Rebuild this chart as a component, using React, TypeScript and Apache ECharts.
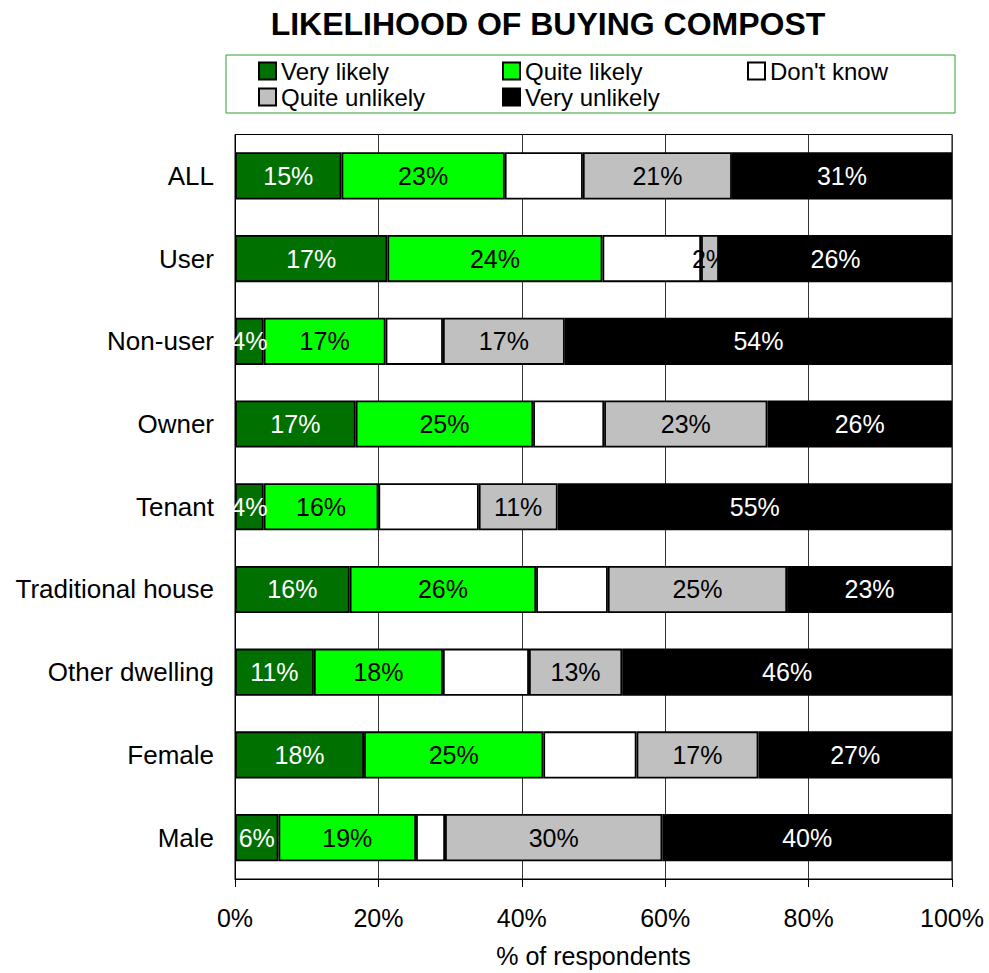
import React, { useEffect, useRef } from "react";
import * as echarts from "echarts";

const categories = ["ALL", "User", "Non-user", "Owner", "Tenant", "Traditional house", "Other dwelling", "Female", "Male"];
const veryLikely = [15, 17, 4, 17, 4, 16, 11, 18, 6];
const quiteLikely = [23, 24, 17, 25, 16, 26, 18, 25, 19];
const dontKnow = [11, 11, 8, 10, 14, 10, 12, 13, 4];
const quiteUnlikely = [21, 2, 17, 23, 11, 25, 13, 17, 30];
const veryUnlikely = [31, 26, 54, 26, 55, 23, 46, 27, 40];
const xTicks = [0, 20, 40, 60, 80, 100];

const FONT = "'Liberation Sans', Arial, sans-serif";

export default function App() {
  const ref = useRef<HTMLDivElement>(null);
  useEffect(() => {
    if (!ref.current) return;
    const chart = echarts.init(ref.current, undefined, { renderer: "svg" });
    const raw = [veryLikely, quiteLikely, dontKnow, quiteUnlikely, veryUnlikely];
    const totals = categories.map((_, i) => raw.reduce((s, arr) => s + arr[i], 0));
    const names = ["Very likely", "Quite likely", "Don't know", "Quite unlikely", "Very unlikely"];
    const colors = ["#007000", "#00ff00", "#ffffff", "#c0c0c0", "#000000"];
    const labelColors = ["#fff", "#000", "#fff", "#000", "#fff"];
    const series = raw.map((arr, k) => ({
      name: names[k],
      type: "bar",
      stack: "total",
      barWidth: "57%",
      itemStyle: { color: colors[k], borderColor: "#000", borderWidth: 1.8 },
      label: {
        show: k !== 2,
        position: "inside",
        color: labelColors[k],
        fontSize: 25,
        fontFamily: FONT,
        formatter: (p: any) => `${arr[p.dataIndex]}%`,
      },
      data: arr.map((v, i) => (v / totals[i]) * 100),
    }));
    const legendText = { fontSize: 24, fontFamily: FONT, color: "#000", lineHeight: 26 };
    const legendCommon = {
      orient: "vertical",
      top: 58,
      padding: 0,
      itemWidth: 17,
      itemHeight: 17,
      itemGap: 0,
      icon: "rect",
      textStyle: legendText,
      selectedMode: false,
    };
    chart.setOption({
      animation: false,
      title: {
        text: "LIKELIHOOD OF BUYING COMPOST",
        left: 543,
        textAlign: "center",
        top: 3,
        textStyle: { fontSize: 32, fontWeight: "bold", fontFamily: FONT, color: "#000" },
      },
      graphic: [
        {
          type: "rect",
          shape: { x: 226, y: 55, width: 729, height: 58 },
          style: { fill: "none", stroke: "#2e9e2e", lineWidth: 1 },
          z: -1,
        },
      ],
      legend: [
        { ...legendCommon, left: 258, data: ["Very likely", "Quite unlikely"] },
        { ...legendCommon, left: 502, data: ["Quite likely", "Very unlikely"] },
        { ...legendCommon, left: 747, data: ["Don't know"] },
      ],
      grid: {
        left: 235,
        right: 37,
        top: 134.5,
        bottom: 94,
        containLabel: false,
        outerBoundsMode: "none",
        show: true,
        borderColor: "#000",
        borderWidth: 1,
        backgroundColor: "transparent",
      },
      xAxis: {
        type: "value",
        min: 0,
        max: 100,
        interval: 20,
        name: "% of respondents",
        nameLocation: "middle",
        nameGap: 64,
        nameTextStyle: { fontSize: 25, fontFamily: FONT, color: "#000" },
        axisLine: { show: true, lineStyle: { color: "#000", width: 1 } },
        axisTick: { show: true, length: 8, lineStyle: { color: "#000" } },
        axisLabel: {
          fontSize: 25,
          fontFamily: FONT,
          color: "#000",
          margin: 26,
          formatter: (v: number) => (xTicks.includes(v) ? `${v}%` : ""),
        },
        splitLine: { show: true, lineStyle: { color: "#333", width: 1 } },
      },
      yAxis: {
        type: "category",
        data: categories,
        inverse: true,
        axisLine: { show: true, lineStyle: { color: "#000", width: 1 } },
        axisTick: { show: false },
        axisLabel: { fontSize: 26, fontFamily: FONT, color: "#000", margin: 21 },
      },
      series,
    });
    return () => chart.dispose();
  }, []);
  return <div ref={ref} style={{ width: 989, height: 973, position: "absolute", left: 0, top: 0 }} />;
}
